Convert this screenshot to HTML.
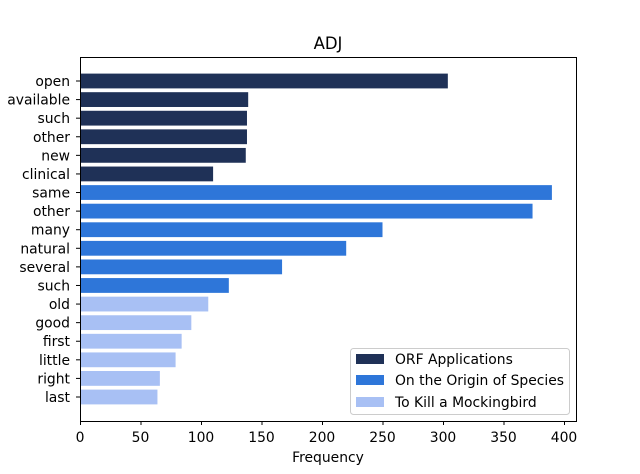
<!DOCTYPE html>
<html><head><meta charset="utf-8">
<style>
body{margin:0;background:#fff;font-family:"DejaVu Sans","Liberation Sans",sans-serif;}
svg{display:block}
text{font-family:"DejaVu Sans","Liberation Sans",sans-serif;font-size:13.9px;fill:#000}
</style></head><body>
<svg id="chart" width="640" height="474">
<rect x="0" y="0" width="640" height="474" fill="#fff"/>
<text x="328" y="49" text-anchor="middle" style="font-size:16.5px">ADJ</text>
<g id="bars"></g>
<g id="yticks"></g>
<g id="xticks"></g>
<rect x="80.5" y="57.5" width="496" height="364" fill="none" stroke="#000" stroke-width="1"/>
<text x="328" y="462" text-anchor="middle">Frequency</text>
<g>
<rect x="350.5" y="348.5" width="219" height="66" rx="3" fill="#fff" fill-opacity="0.8" stroke="#ccc"/>
<g><rect x="356" y="354" width="28" height="10" fill="#1f3157"/><text x="395" y="364">ORF Applications</text></g>
<g><rect x="356" y="375" width="28" height="10" fill="#2e76d9"/><text x="395" y="385">On the Origin of Species</text></g>
<g><rect x="356" y="397" width="28" height="10" fill="#a8c0f4"/><text x="395" y="407">To Kill a Mockingbird</text></g>
</g>
</svg>
<script>
const categories=["open","available","such","other","new","clinical","same","other","many","natural","several","such","old","good","first","little","right","last"];
const values=[304,139,138,138,137,110,390,374,250,220,167,123,106,92,84,79,66,64];
const groups=[0,0,0,0,0,0,1,1,1,1,1,1,2,2,2,2,2,2];
const xTicks=[0,50,100,150,200,250,300,350,400];
const colors=["#1f3157","#2e76d9","#a8c0f4"];
const NS="http://www.w3.org/2000/svg";
const x0=80,xs=484/400;
function xScale(v){return x0+v*xs;}
function yScale(i){return 81+i*(397-81)/17;}
const bh=14.8;
const bars=document.getElementById('bars'),yt=document.getElementById('yticks'),xt=document.getElementById('xticks');
categories.forEach((c,i)=>{
 const r=document.createElementNS(NS,'rect');
 r.setAttribute('x',x0);r.setAttribute('y',yScale(i)-bh/2);
 r.setAttribute('width',xScale(values[i])-x0);r.setAttribute('height',bh);
 r.setAttribute('fill',colors[groups[i]]);
 
 
 bars.appendChild(r);
 const l=document.createElementNS(NS,'line');
 l.setAttribute('x1',76);l.setAttribute('x2',80);l.setAttribute('y1',yScale(i));l.setAttribute('y2',yScale(i));l.setAttribute('stroke','#000');
 yt.appendChild(l);
 const t=document.createElementNS(NS,'text');
 t.setAttribute('x',70);t.setAttribute('y',yScale(i)+5);t.setAttribute('text-anchor','end');
 t.textContent=c;
 
 
 yt.appendChild(t);
});
xTicks.forEach(v=>{
 const l=document.createElementNS(NS,'line');
 l.setAttribute('x1',xScale(v)+0.5);l.setAttribute('x2',xScale(v)+0.5);l.setAttribute('y1',421);l.setAttribute('y2',425);l.setAttribute('stroke','#000');
 xt.appendChild(l);
 const t=document.createElementNS(NS,'text');
 t.setAttribute('x',xScale(v));t.setAttribute('y',442);t.setAttribute('text-anchor','middle');
 t.textContent=v;
 
 
 xt.appendChild(t);
});
</script>
</body></html>
